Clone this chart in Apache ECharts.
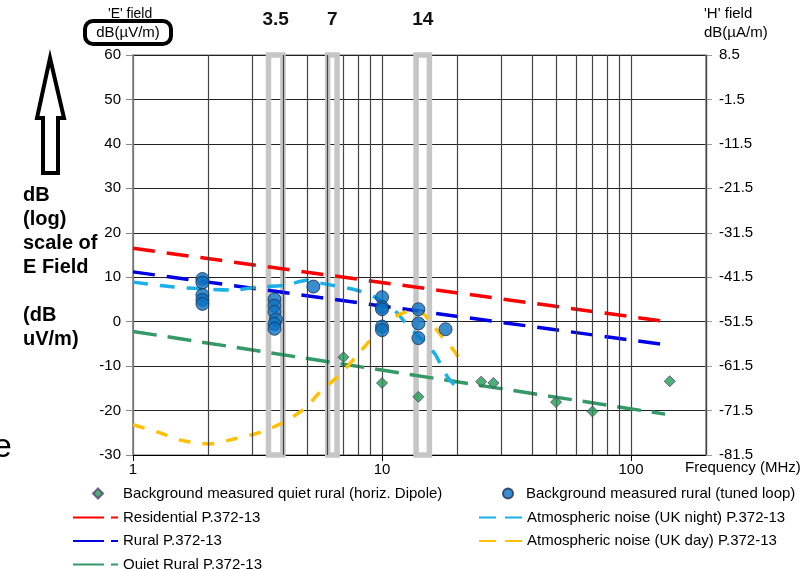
<!DOCTYPE html>
<html>
<head>
<meta charset="utf-8">
<script src="https://cdn.jsdelivr.net/npm/echarts@6/dist/echarts.min.js"></script>
<style>
html,body{margin:0;padding:0;background:#fff;}
#chart{width:810px;height:569px;}
</style>
</head>
<body>
<div id="chart"></div>
<script>
// ---- data ----
const xTickLabels = ['1', '10', '100'];
const minorFreqs = [2, 3, 4, 5, 6, 7, 8, 9, 20, 30, 40, 50, 60, 70, 80, 90, 200];
const bandLow = [3.5, 6.05, 13.7];
const bandHigh = [4.0, 6.6, 15.5];
const bandLabels = ['3.5', '7', '14'];

const quietRuralDipole = [[7, -8.0], [10, -13.8], [14, -16.9], [25, -13.5], [28, -13.8], [50, -18.1], [70, -20.2], [143, -13.4]];
const ruralTunedLoop = [
  [1.9, 9.6], [1.9, 8.8], [1.9, 6.0], [1.9, 4.9], [1.9, 4.0],
  [3.7, 5.0], [3.7, 3.6], [3.7, 2.2], [3.75, 0.5], [3.7, -0.5], [3.7, -1.6],
  [5.3, 7.9],
  [10, 5.5], [10, 3.3], [10, 2.8], [10, -1.1], [10, -1.9],
  [14, 2.8], [14, -0.4], [14, -3.7],
  [18, -1.7]
];
const residential = [[1, 16.5], [136, 0.1]];
const rural = [[1, 11.2], [137, -5.2]];
const quietRural = [[1, -2.2], [137, -20.8]];
const atmosNight = [[1.0, 8.9], [1.4, 7.9], [2.0, 7.3], [2.5, 7.1], [3.2, 7.8], [4.1, 8.2], [5.0, 9.3], [5.5, 8.8], [6.3, 8.2], [8.0, 7.0], [9.5, 5.3], [11.5, 2.0], [12.3, 0.0], [16.2, -7.0], [17.0, -9.1], [18.3, -12.4], [19.5, -14.2]];
const atmosDay = [[1.0, -23.2], [1.25, -24.8], [1.57, -26.7], [2.03, -27.5], [2.54, -26.4], [3.2, -25.0], [3.96, -22.8], [4.9, -19.5], [5.6, -16.0], [6.8, -11.8], [8.1, -7.0], [9.25, -3.3], [11.0, 0.8], [12.2, 2.0], [13.3, 2.5], [14.6, 1.8], [15.9, -0.5], [17.2, -3.0], [19.5, -6.6], [20.2, -8.0]];

const FONT = 'Liberation Sans, Arial, sans-serif';
const names = {
  dip: 'Background measured quiet rural (horiz. Dipole)',
  loop: 'Background measured rural (tuned loop)',
  res: 'Residential P.372-13',
  rur: 'Rural P.372-13',
  qr: 'Quiet Rural P.372-13',
  night: 'Atmospheric noise (UK night) P.372-13',
  day: 'Atmospheric noise (UK day) P.372-13'
};

const chart = echarts.init(document.getElementById('chart'), null, {renderer: 'canvas'});

function lineSeries(name, data, color, dash, smooth, z) {
  return {
    name, type: 'line', data, symbol: 'none', smooth: smooth, z: z,
    lineStyle: {color, width: 3.5, type: dash, cap: 'butt'},
    itemStyle: {color}
  };
}
const hiddenSym = {color: 'rgba(0,0,0,0)', borderColor: 'rgba(0,0,0,0)', borderWidth: 0, opacity: 0};
const legendText = (padLeft) => ({fontSize: 15, color: '#000', fontFamily: FONT, lineHeight: 15, padding: [0, 0, 0, padLeft]});

const option = {
  backgroundColor: '#fff',
  animation: false,
  textStyle: {fontFamily: FONT},
  grid: {left: 133, right: 104, top: 55, bottom: 114, show: true, borderColor: '#999', borderWidth: 1.5, containLabel: false},
  xAxis: {
    type: 'log', logBase: 10, min: 1, max: 200,
    axisLine: {show: true, onZero: false, lineStyle: {color: '#000', width: 1}},
    axisTick: {show: true, length: 6, lineStyle: {color: '#000'}},
    axisLabel: {fontSize: 15, color: '#000', margin: 7, fontFamily: FONT, showMaxLabel: false,
      formatter: v => { const l = Math.log10(v); const i = Math.round(l);
        return (Math.abs(l - i) < 1e-6 && xTickLabels[i] !== undefined) ? xTickLabels[i] : ''; }},
    splitLine: {show: true, lineStyle: {color: '#444', width: 1.2}}
  },
  yAxis: [
    {
      type: 'value', min: -30, max: 60, interval: 10, position: 'left',
      axisLine: {show: true, lineStyle: {color: '#888', width: 1.5}},
      axisTick: {show: true, length: 7, lineStyle: {color: '#888'}},
      axisLabel: {fontSize: 15, color: '#000', margin: 12, fontFamily: FONT},
      splitLine: {show: true, lineStyle: {color: '#222', width: 1}}
    },
    {
      type: 'value', min: -30, max: 60, interval: 10, position: 'right',
      axisLine: {show: true, lineStyle: {color: '#999', width: 1.5}},
      axisTick: {show: true, length: 6, lineStyle: {color: '#999'}},
      axisLabel: {fontSize: 15, color: '#000', margin: 13, fontFamily: FONT,
        formatter: v => (v - 51.5).toFixed(1)},
      splitLine: {show: false}
    }
  ],
  legend: [
    {
      left: 92, top: 486, padding: 0, orient: 'vertical', itemWidth: 10, itemHeight: 10,
      textStyle: legendText(15),
      data: [{name: names.dip}]
    },
    {
      left: 502, top: 486, padding: 0, orient: 'vertical', itemWidth: 10, itemHeight: 10,
      textStyle: legendText(8),
      data: [{name: names.loop}]
    },
    {
      left: 72, top: 510, height: 80, padding: 0, orient: 'vertical', itemWidth: 45, itemHeight: 9, itemGap: 8.5,
      textStyle: legendText(0),
      data: [
        {name: names.res, lineStyle: {type: [31, 7]}, itemStyle: hiddenSym},
        {name: names.rur, lineStyle: {type: [31, 7]}, itemStyle: hiddenSym},
        {name: names.qr, lineStyle: {type: [31, 7]}, itemStyle: hiddenSym}
      ]
    },
    {
      left: 478, top: 510, height: 80, padding: 0, orient: 'vertical', itemWidth: 43, itemHeight: 9, itemGap: 8.5,
      textStyle: legendText(0),
      data: [
        {name: names.night, lineStyle: {type: [17, 9]}, itemStyle: hiddenSym},
        {name: names.day, lineStyle: {type: [17, 9]}, itemStyle: hiddenSym}
      ]
    }
  ],
  series: [
    {
      name: 'minor-grid', type: 'line', data: [], silent: true, z: 0,
      markLine: {
        silent: true, symbol: 'none', animation: false,
        label: {show: false},
        lineStyle: {color: '#444', width: 1.2, type: 'solid'},
        data: minorFreqs.map(f => ({xAxis: f}))
      }
    },
    {
      name: 'bands', type: 'custom', silent: true, z: 1,
      data: bandLow.map((lo, i) => [lo, bandHigh[i], 60, -30]),
      encode: {x: [0, 1], y: [2, 3]},
      clip: false,
      renderItem: (params, api) => {
        const p1 = api.coord([api.value(0), api.value(2)]);
        const p2 = api.coord([api.value(1), api.value(3)]);
        return {
          type: 'group',
          children: [
            {type: 'rect', shape: {x: p1[0], y: p1[1], width: p2[0] - p1[0], height: p2[1] - p1[1]},
              style: {fill: 'none', stroke: '#c6c6c6', lineWidth: 5.5}},
            {type: 'text', style: {text: bandLabels[params.dataIndex], x: (p1[0] + p2[0]) / 2, y: p1[1] - 35,
              align: 'center', verticalAlign: 'middle', font: 'bold 19px ' + FONT, fill: '#111'}}
          ]
        };
      }
    },
    lineSeries(names.res, residential, '#ff0000', [22, 12], false, 3),
    lineSeries(names.rur, rural, '#0000e6', [22, 12], false, 3),
    lineSeries(names.qr, quietRural, '#339966', [24, 11], false, 3),
    lineSeries(names.night, atmosNight, '#1ab0e8', [15, 12], 0.3, 3),
    lineSeries(names.day, atmosDay, '#ffc000', [12, 12], 0.3, 3),
    {
      name: names.dip, type: 'scatter', data: quietRuralDipole, symbol: 'diamond', symbolSize: 11, z: 5,
      itemStyle: {color: '#1e9e50', borderColor: '#5b3f77', borderWidth: 1}
    },
    {
      name: names.loop, type: 'scatter', data: ruralTunedLoop, symbol: 'circle', symbolSize: 13, z: 5,
      itemStyle: {color: '#0a72c0', borderColor: '#1c2f55', borderWidth: 1}
    }
  ],
  graphic: [
    {type: 'text', left: 108, top: 7, z: 10, style: {text: "'E' field", font: '14px ' + FONT, fill: '#000'}},
    {type: 'rect', z: 11, shape: {x: 85, y: 21, width: 86, height: 23, r: 8},
      style: {fill: '#fff', stroke: '#000', lineWidth: 4}},
    {type: 'text', z: 12, style: {text: 'dB(\u00b5V/m)', x: 128, y: 33, align: 'center', verticalAlign: 'middle', font: '15px ' + FONT, fill: '#000'}},
    {type: 'text', z: 10, style: {text: "'H' field", x: 704, y: 14, align: 'left', verticalAlign: 'middle', font: '15px ' + FONT, fill: '#000'}},
    {type: 'text', z: 10, style: {text: 'dB(\u00b5A/m)', x: 704, y: 33, align: 'left', verticalAlign: 'middle', font: '15px ' + FONT, fill: '#000'}},
    {type: 'text', z: 10, style: {text: 'Frequency (MHz)', x: 685, y: 468, align: 'left', verticalAlign: 'middle', font: '15px ' + FONT, fill: '#000'}},
    {type: 'polygon', z: 10, shape: {points: [[50, 58], [64, 118], [58, 118], [58, 173], [43, 173], [43, 118], [37, 118]]},
      style: {fill: '#fff', stroke: '#000', lineWidth: 4, lineJoin: 'miter'}},
    {type: 'text', z: 10, style: {text: 'dB\n(log)\nscale of\nE Field\n\n(dB\nuV/m)', x: 23, y: 183, align: 'left', verticalAlign: 'top',
      font: 'bold 20px ' + FONT, lineHeight: 24, fill: '#000'}},
    {type: 'text', z: 10, style: {text: 'e', x: -7, y: 448, align: 'left', verticalAlign: 'middle', font: '34px ' + FONT, fill: '#000'}}
  ]
};
chart.setOption(option);
</script>
</body>
</html>
